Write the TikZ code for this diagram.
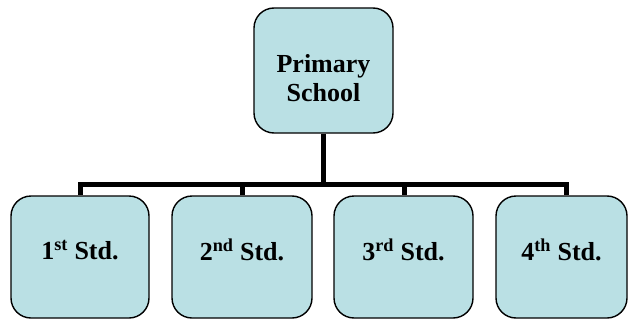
\documentclass[tikz,border=0pt]{standalone}
\usepackage{fontspec}
\setmainfont{Liberation Serif}[BoldFont={Liberation Serif Bold}]
\definecolor{boxfill}{RGB}{186,224,228}
\begin{document}
\begin{tikzpicture}[x=1pt,y=-1pt,
  orgbox/.style={draw=black, line width=1.4pt, fill=boxfill, rounded corners=20pt,
    inner sep=0pt},
  boxtext/.style={font=\rmfamily\bfseries\fontsize{26}{29}\selectfont, align=center},
  bar/.style={line width=5pt, line cap=rect}]
  \useasboundingbox (0,0) rectangle (631,321);

  % head of the chart
  \node[orgbox, minimum width=139pt, minimum height=125pt,
    label={[boxtext, yshift=-8pt]center:Primary\\School}] (school) at (323.5,70.5) {};

  % the four standards
  \node[orgbox, minimum width=138pt, minimum height=122pt,
    label={[boxtext, yshift=7pt]center:1\textsuperscript{st} Std.}] (std1) at (80,257) {};
  \node[orgbox, minimum width=140pt, minimum height=122pt,
    label={[boxtext, yshift=7pt]center:2\textsuperscript{nd} Std.}] (std2) at (242,257) {};
  \node[orgbox, minimum width=139pt, minimum height=122pt,
    label={[boxtext, yshift=7pt]center:3\textsuperscript{rd} Std.}] (std3) at (403.5,257) {};
  \node[orgbox, minimum width=131pt, minimum height=122pt,
    label={[boxtext, yshift=7pt]center:4\textsuperscript{th} Std.}] (std4) at (561.5,257) {};

  % connector bus
  \coordinate (b1) at (80,184);
  \coordinate (b2) at (242,184);
  \coordinate (b3) at (404,184);
  \coordinate (b4) at (566,184);
  \coordinate (bh) at (323,184);
  \draw[line width=5pt] (school.south -| bh) -- (bh);
  \draw[bar] (b1) -- (b4);
  \draw[line width=5pt] (b1) -- (b1 |- std1.north);
  \draw[line width=5pt] (b2) -- (b2 |- std2.north);
  \draw[line width=5pt] (b3) -- (b3 |- std3.north);
  \draw[line width=5pt] (b4) -- (b4 |- std4.north);
\end{tikzpicture}
\end{document}
